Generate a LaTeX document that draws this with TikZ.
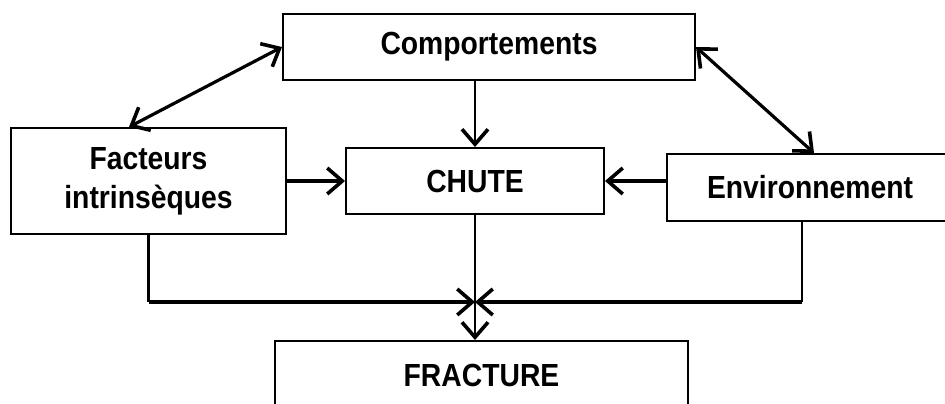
\documentclass[tikz,border=0pt]{standalone}
\usepackage{fontspec}
\setmainfont{Liberation Sans}
\usetikzlibrary{arrows.meta,calc}
\newcommand{\lbl}[1]{\scalebox{1}[1.13]{#1}}
\begin{document}
\begin{tikzpicture}[x=1pt,y=-1pt,
  box/.style={draw, line width=2pt, inner sep=0pt, align=center,
    font=\fontsize{28.3}{34.5}\selectfont\bfseries},
  thinline/.style={line width=2.2pt},
  thickline/.style={line width=3.2pt},
  tip/.style={-{Straight Barb[length=15pt,width=26pt,line width=3.6pt]}},
  bitip/.style={{Straight Barb[length=15pt,width=26pt,line width=3.6pt]}-{Straight Barb[length=15pt,width=26pt,line width=3.6pt]}}]
\useasboundingbox (0,0) rectangle (945,404);
\clip (0,0) rectangle (945,404);
\node[box, minimum width=412pt, minimum height=66pt] (comp) at (489,47) {\lbl{Comportements}};
\node[box, minimum width=275pt, minimum height=106pt] (fact) at (148.5,181)
  {\lbl{\begin{tabular}{@{}c@{}}Facteurs\\intrinsèques\end{tabular}}};
\node[box, minimum width=258pt, minimum height=66pt] (chute) at (475,181) {\lbl{CHUTE}};
\node[box, minimum width=286pt, minimum height=67pt] (env) at (810,187.5) {\lbl{Environnement}};
\node[box, minimum width=413pt, minimum height=68pt] (frac) at (481.5,375) {\lbl{FRACTURE}};
\coordinate (J) at (475,302);
\coordinate (ftop) at ([xshift=119pt]fact.north west);
\coordinate (etop) at ([xshift=148pt]env.north west);
\coordinate (ebot) at ([xshift=136pt]env.south west);
% diagonal double arrows
\draw[thickline, bitip] (ftop) -- (comp.west);
\draw[thickline, bitip] (comp.east) -- (etop);
% into CHUTE
\draw[thinline, tip] (comp.south -| chute.north) -- (chute.north);
\draw[thickline, tip] (fact.east) -- (chute.west);
\draw[thickline, tip] (env.west |- chute.east) -- (chute.east);
% to FRACTURE
\draw[thinline] (fact.south) -- (fact.south |- J);
\draw[thickline, tip] (fact.south |- J) -- (J);
\draw[thinline] (ebot) -- (ebot |- J);
\draw[thickline, tip] (ebot |- J) -- (J);
\draw[thinline, tip] (chute.south) -- (chute.south |- frac.north);
\end{tikzpicture}
\end{document}
